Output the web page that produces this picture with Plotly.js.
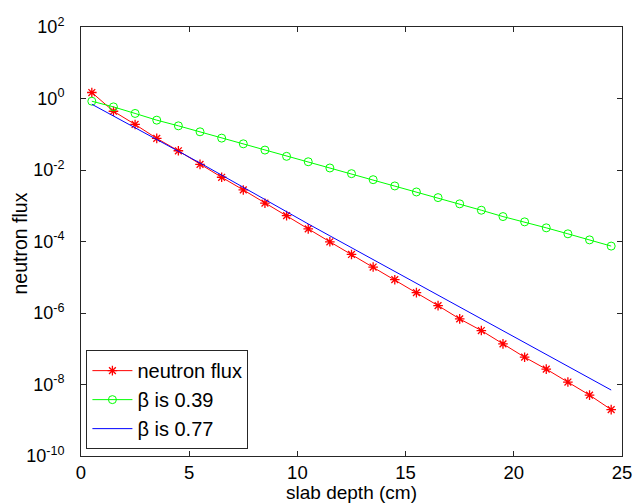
<!DOCTYPE html>
<html>
<head>
<meta charset="utf-8">
<script src="https://cdn.plot.ly/plotly-3.0.1.min.js"></script>
<style>
  html, body { margin: 0; padding: 0; background: #fff; }
  #chart { width: 635px; height: 503px; }
</style>
</head>
<body>
<div id="chart"></div>
<script>
// slab depth positions (cm)
const depth = [0.5, 1.5, 2.5, 3.5, 4.5, 5.5, 6.5, 7.5, 8.5, 9.5, 10.5, 11.5, 12.5,
               13.5, 14.5, 15.5, 16.5, 17.5, 18.5, 19.5, 20.5, 21.5, 22.5, 23.5, 24.5];

// computed neutron flux
const fluxNeutron = [1.47, 0.44, 0.188, 0.0766, 0.0345, 0.0144, 0.00626, 0.00277,
                     1.18e-3, 5.3e-4, 2.26e-4, 9.8e-5, 4.34e-5, 1.93e-5, 8.55e-6,
                     3.71e-6, 1.61e-6, 6.84e-7, 3.23e-7, 1.37e-7, 5.81e-8, 2.69e-8,
                     1.17e-8, 5.06e-9, 1.98e-9];

// attenuation curve, beta = 0.39
const fluxBeta039 = [0.84, 0.583, 0.382, 0.248, 0.172, 0.117, 0.078, 0.054,
                     0.0361, 0.0241, 0.0170, 0.0114, 7.9e-3, 5.36e-3, 3.58e-3,
                     2.43e-3, 1.69e-3, 1.13e-3, 7.5e-4, 4.98e-4, 3.54e-4, 2.41e-4,
                     1.64e-4, 1.11e-4, 7.44e-5];

// attenuation curve, beta = 0.77
const fluxBeta077 = [0.69, 0.327, 0.153, 0.073, 0.0345, 0.0157, 7.2e-3, 3.25e-3,
                     1.5e-3, 6.9e-4, 3.1e-4, 1.44e-4, 6.7e-5, 3.1e-5, 1.4e-5,
                     6.5e-6, 3.1e-6, 1.42e-6, 6.6e-7, 3.1e-7, 1.42e-7, 6.6e-8,
                     3.1e-8, 1.48e-8, 7.0e-9];

const seriesNames = ['neutron flux', '\u03b2 is 0.39', '\u03b2 is 0.77'];

const xTicks = [0, 5, 10, 15, 20, 25];
const yExponents = [-10, -8, -6, -4, -2, 0, 2];

const font = 'Arial, "Liberation Sans", sans-serif';
const axisColor = '#262626';

const traces = [
  {
    x: depth, y: fluxNeutron, name: seriesNames[0],
    type: 'scatter', mode: 'lines+markers',
    line: { color: '#ff0000', width: 1 },
    marker: { symbol: 'asterisk-open', size: 8, color: '#ff0000', line: { color: '#ff0000', width: 1.3 } }
  },
  {
    x: depth, y: fluxBeta039, name: seriesNames[1],
    type: 'scatter', mode: 'lines+markers',
    line: { color: '#00ff00', width: 1 },
    marker: { symbol: 'circle-open', size: 8, color: '#00ff00', line: { color: '#00ff00', width: 1 } }
  },
  {
    x: depth, y: fluxBeta077, name: seriesNames[2],
    type: 'scatter', mode: 'lines',
    line: { color: '#0000ff', width: 1 }
  }
];

const layout = {
  width: 635, height: 503,
  paper_bgcolor: '#ffffff', plot_bgcolor: '#ffffff',
  margin: { l: 81, r: 13, t: 27, b: 47 },
  font: { family: font, size: 19, color: '#000' },
  showlegend: true,
  legend: {
    x: 0.01, y: 0.016, xanchor: 'left', yanchor: 'bottom',
    bgcolor: '#ffffff', bordercolor: axisColor, borderwidth: 1,
    font: { family: font, size: 20, color: '#000' },
    tracegroupgap: 0, itemwidth: 40
  },
  xaxis: {
    range: [0, 25],
    tickvals: xTicks, ticktext: xTicks.map(String),
    ticks: 'inside', ticklen: 5, tickcolor: axisColor,
    showline: true, linecolor: axisColor, linewidth: 1, mirror: 'ticks',
    showgrid: false, zeroline: false,
    tickfont: { family: font, size: 18.5 },
    title: { text: 'slab depth (cm)', font: { family: font, size: 19 }, standoff: 3 }
  },
  yaxis: {
    type: 'log',
    range: [-10, 2],
    tickvals: yExponents.map(e => Math.pow(10, e)),
    ticktext: yExponents.map(e => '10<sup>' + e + '</sup>'),
    ticks: 'inside', ticklen: 5, tickcolor: axisColor,
    ticklabelstandoff: 12,
    showline: true, linecolor: axisColor, linewidth: 1, mirror: 'ticks',
    showgrid: false, zeroline: false,
    tickfont: { family: font, size: 18 }
  },
  annotations: [{
    // y-axis label, placed just left of the tick labels
    text: 'neutron flux',
    xref: 'paper', yref: 'paper',
    x: -0.113, y: 0.495, xanchor: 'center', yanchor: 'middle',
    textangle: -90, showarrow: false,
    font: { family: font, size: 19.5, color: '#000' }
  }]
};

Plotly.newPlot('chart', traces, layout, { displayModeBar: false, staticPlot: true });
</script>
</body>
</html>
